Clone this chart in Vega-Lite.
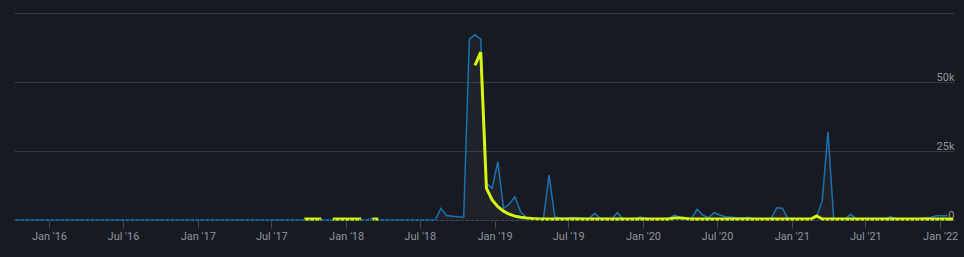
{
  "$schema": "https://vega.github.io/schema/vega-lite/v6.json",
  "width": 940,
  "height": 207,
  "padding": {"left": 14, "top": 13, "right": 10, "bottom": 37},
  "autosize": {"type": "none"},
  "background": "#171a21",
  "config": {
    "view": {"stroke": null},
    "axis": {"labelFont": "Roboto", "labelFontSize": 11, "labelColor": "#8d95a0", "title": null}
  },
  "datasets": {
    "blue": [
      {"d":"2015-10-07","v":0},{"d":"2015-10-21","v":0},{"d":"2015-11-04","v":0},{"d":"2015-11-18","v":0},{"d":"2015-12-02","v":0},{"d":"2015-12-16","v":0},{"d":"2015-12-30","v":0},
      {"d":"2016-01-13","v":0},{"d":"2016-01-27","v":0},{"d":"2016-02-10","v":0},{"d":"2016-02-24","v":0},{"d":"2016-03-09","v":0},{"d":"2016-03-23","v":0},{"d":"2016-04-06","v":0},{"d":"2016-04-20","v":0},{"d":"2016-05-04","v":0},{"d":"2016-05-18","v":0},{"d":"2016-06-01","v":0},{"d":"2016-06-15","v":0},{"d":"2016-06-29","v":0},{"d":"2016-07-13","v":0},{"d":"2016-07-27","v":0},{"d":"2016-08-10","v":0},{"d":"2016-08-24","v":0},{"d":"2016-09-07","v":0},{"d":"2016-09-21","v":0},{"d":"2016-10-05","v":0},{"d":"2016-10-19","v":0},{"d":"2016-11-02","v":0},{"d":"2016-11-16","v":0},{"d":"2016-11-30","v":0},{"d":"2016-12-14","v":0},{"d":"2016-12-28","v":0},
      {"d":"2017-01-11","v":0},{"d":"2017-01-25","v":0},{"d":"2017-02-08","v":0},{"d":"2017-02-22","v":0},{"d":"2017-03-08","v":0},{"d":"2017-03-22","v":0},{"d":"2017-04-05","v":0},{"d":"2017-04-19","v":0},{"d":"2017-05-03","v":0},{"d":"2017-05-17","v":0},{"d":"2017-05-31","v":0},{"d":"2017-06-14","v":0},{"d":"2017-06-28","v":0},{"d":"2017-07-12","v":0},{"d":"2017-07-26","v":0},{"d":"2017-08-09","v":0},{"d":"2017-08-23","v":0},{"d":"2017-09-06","v":0},{"d":"2017-09-20","v":0},{"d":"2017-10-04","v":0},{"d":"2017-10-18","v":0},{"d":"2017-11-01","v":0},{"d":"2017-11-15","v":0},{"d":"2017-11-29","v":0},{"d":"2017-12-13","v":0},{"d":"2017-12-27","v":0},
      {"d":"2018-01-10","v":0},{"d":"2018-01-24","v":0},{"d":"2018-02-07","v":0},{"d":"2018-02-21","v":0},{"d":"2018-03-07","v":600},{"d":"2018-03-21","v":0},{"d":"2018-04-04","v":0},{"d":"2018-04-18","v":0},{"d":"2018-05-02","v":0},{"d":"2018-05-16","v":0},{"d":"2018-05-30","v":0},{"d":"2018-06-13","v":0},{"d":"2018-06-27","v":0},{"d":"2018-07-11","v":0},{"d":"2018-07-25","v":0},{"d":"2018-08-08","v":0},{"d":"2018-08-22","v":4200},{"d":"2018-09-05","v":1600},{"d":"2018-09-19","v":1400},{"d":"2018-10-03","v":1200},{"d":"2018-10-17","v":1000},{"d":"2018-10-31","v":65500},{"d":"2018-11-14","v":67100},{"d":"2018-11-28","v":65500},{"d":"2018-12-12","v":13300},{"d":"2018-12-26","v":11500},
      {"d":"2019-01-09","v":21150},{"d":"2019-01-23","v":4200},{"d":"2019-02-06","v":5800},{"d":"2019-02-20","v":8450},{"d":"2019-03-06","v":3000},{"d":"2019-03-20","v":1000},{"d":"2019-04-03","v":300},{"d":"2019-04-17","v":200},{"d":"2019-05-01","v":200},{"d":"2019-05-15","v":16300},{"d":"2019-05-29","v":1200},{"d":"2019-06-12","v":600},{"d":"2019-06-26","v":700},{"d":"2019-07-10","v":900},{"d":"2019-07-24","v":800},{"d":"2019-08-07","v":600},{"d":"2019-08-21","v":400},{"d":"2019-09-04","v":2400},{"d":"2019-09-18","v":500},{"d":"2019-10-02","v":500},{"d":"2019-10-16","v":400},{"d":"2019-10-30","v":2650},{"d":"2019-11-13","v":400},{"d":"2019-11-27","v":300},{"d":"2019-12-11","v":300},{"d":"2019-12-25","v":1100},
      {"d":"2020-01-08","v":500},{"d":"2020-01-22","v":300},{"d":"2020-02-05","v":300},{"d":"2020-02-19","v":300},{"d":"2020-03-04","v":400},{"d":"2020-03-18","v":1800},{"d":"2020-04-01","v":1000},{"d":"2020-04-15","v":800},{"d":"2020-04-29","v":400},{"d":"2020-05-13","v":3900},{"d":"2020-05-27","v":1800},{"d":"2020-06-10","v":800},{"d":"2020-06-24","v":2650},{"d":"2020-07-08","v":1800},{"d":"2020-07-22","v":1200},{"d":"2020-08-05","v":1000},{"d":"2020-08-19","v":800},{"d":"2020-09-02","v":600},{"d":"2020-09-16","v":1000},{"d":"2020-09-30","v":400},{"d":"2020-10-14","v":300},{"d":"2020-10-28","v":300},{"d":"2020-11-11","v":400},{"d":"2020-11-25","v":4450},{"d":"2020-12-09","v":4250},{"d":"2020-12-23","v":300},
      {"d":"2021-01-06","v":300},{"d":"2021-01-20","v":300},{"d":"2021-02-03","v":300},{"d":"2021-02-17","v":500},{"d":"2021-03-03","v":1000},{"d":"2021-03-17","v":7000},{"d":"2021-03-31","v":32000},{"d":"2021-04-14","v":600},{"d":"2021-04-28","v":300},{"d":"2021-05-12","v":300},{"d":"2021-05-26","v":2050},{"d":"2021-06-09","v":400},{"d":"2021-06-23","v":300},{"d":"2021-07-07","v":300},{"d":"2021-07-21","v":300},{"d":"2021-08-04","v":300},{"d":"2021-08-18","v":300},{"d":"2021-09-01","v":1200},{"d":"2021-09-15","v":400},{"d":"2021-09-29","v":300},{"d":"2021-10-13","v":300},{"d":"2021-10-27","v":300},{"d":"2021-11-10","v":300},{"d":"2021-11-24","v":800},{"d":"2021-12-08","v":900},{"d":"2021-12-22","v":1500},
      {"d":"2022-01-05","v":1500},{"d":"2022-01-19","v":1500}
    ],
    "yellow": [
      {"d":"2017-09-20","v":350,"s":"a"},{"d":"2017-10-04","v":350,"s":"a"},{"d":"2017-10-18","v":350,"s":"a"},{"d":"2017-11-01","v":350,"s":"a"},
      {"d":"2017-11-29","v":350,"s":"b"},{"d":"2017-12-13","v":350,"s":"b"},{"d":"2017-12-27","v":350,"s":"b"},{"d":"2018-01-10","v":350,"s":"b"},{"d":"2018-01-24","v":350,"s":"b"},{"d":"2018-02-07","v":350,"s":"b"},
      {"d":"2018-03-07","v":350,"s":"c"},{"d":"2018-03-21","v":350,"s":"c"},
      {"d":"2018-11-14","v":56000,"s":"d"},{"d":"2018-11-28","v":60800,"s":"d"},{"d":"2018-12-12","v":11500,"s":"d"},{"d":"2018-12-26","v":7300,"s":"d"},
      {"d":"2019-01-09","v":4800,"s":"d"},{"d":"2019-01-23","v":3200,"s":"d"},{"d":"2019-02-06","v":2100,"s":"d"},{"d":"2019-02-20","v":1400,"s":"d"},{"d":"2019-03-06","v":1000,"s":"d"},{"d":"2019-03-20","v":700,"s":"d"},{"d":"2019-04-03","v":550,"s":"d"},{"d":"2019-04-17","v":450,"s":"d"},{"d":"2019-05-01","v":400,"s":"d"},{"d":"2019-05-15","v":400,"s":"d"},{"d":"2019-05-29","v":400,"s":"d"},{"d":"2019-06-12","v":380,"s":"d"},{"d":"2019-06-26","v":380,"s":"d"},{"d":"2019-07-10","v":380,"s":"d"},{"d":"2019-07-24","v":380,"s":"d"},{"d":"2019-08-07","v":370,"s":"d"},{"d":"2019-08-21","v":370,"s":"d"},{"d":"2019-09-04","v":370,"s":"d"},{"d":"2019-09-18","v":370,"s":"d"},{"d":"2019-10-02","v":360,"s":"d"},{"d":"2019-10-16","v":360,"s":"d"},{"d":"2019-10-30","v":360,"s":"d"},{"d":"2019-11-13","v":360,"s":"d"},{"d":"2019-11-27","v":350,"s":"d"},{"d":"2019-12-11","v":350,"s":"d"},{"d":"2019-12-25","v":350,"s":"d"},
      {"d":"2020-01-08","v":350,"s":"d"},{"d":"2020-01-22","v":350,"s":"d"},{"d":"2020-02-05","v":350,"s":"d"},{"d":"2020-02-19","v":350,"s":"d"},{"d":"2020-03-04","v":400,"s":"d"},{"d":"2020-03-18","v":750,"s":"d"},{"d":"2020-04-01","v":750,"s":"d"},{"d":"2020-04-15","v":550,"s":"d"},{"d":"2020-04-29","v":400,"s":"d"},{"d":"2020-05-13","v":400,"s":"d"},{"d":"2020-05-27","v":380,"s":"d"},{"d":"2020-06-10","v":380,"s":"d"},{"d":"2020-06-24","v":380,"s":"d"},{"d":"2020-07-08","v":380,"s":"d"},{"d":"2020-07-22","v":370,"s":"d"},{"d":"2020-08-05","v":370,"s":"d"},{"d":"2020-08-19","v":370,"s":"d"},{"d":"2020-09-02","v":360,"s":"d"},{"d":"2020-09-16","v":360,"s":"d"},{"d":"2020-09-30","v":360,"s":"d"},{"d":"2020-10-14","v":350,"s":"d"},{"d":"2020-10-28","v":350,"s":"d"},{"d":"2020-11-11","v":350,"s":"d"},{"d":"2020-11-25","v":350,"s":"d"},{"d":"2020-12-09","v":350,"s":"d"},{"d":"2020-12-23","v":350,"s":"d"},
      {"d":"2021-01-06","v":350,"s":"d"},{"d":"2021-01-20","v":350,"s":"d"},{"d":"2021-02-03","v":350,"s":"d"},{"d":"2021-02-17","v":350,"s":"d"},{"d":"2021-03-03","v":1450,"s":"d"},{"d":"2021-03-17","v":350,"s":"d"},{"d":"2021-03-31","v":350,"s":"d"},{"d":"2021-04-14","v":350,"s":"d"},{"d":"2021-04-28","v":350,"s":"d"},{"d":"2021-05-12","v":350,"s":"d"},{"d":"2021-05-26","v":350,"s":"d"},{"d":"2021-06-09","v":350,"s":"d"},{"d":"2021-06-23","v":350,"s":"d"},{"d":"2021-07-07","v":350,"s":"d"},{"d":"2021-07-21","v":350,"s":"d"},{"d":"2021-08-04","v":350,"s":"d"},{"d":"2021-08-18","v":350,"s":"d"},{"d":"2021-09-01","v":350,"s":"d"},{"d":"2021-09-15","v":350,"s":"d"},{"d":"2021-09-29","v":350,"s":"d"},{"d":"2021-10-13","v":350,"s":"d"},{"d":"2021-10-27","v":350,"s":"d"},{"d":"2021-11-10","v":350,"s":"d"},{"d":"2021-11-24","v":350,"s":"d"},{"d":"2021-12-08","v":350,"s":"d"},{"d":"2021-12-22","v":350,"s":"d"},
      {"d":"2022-01-05","v":350,"s":"d"},{"d":"2022-01-19","v":350,"s":"d"},{"d":"2022-02-02","v":350,"s":"d"}
    ]
  },
  "encoding": {
    "x": {
      "field": "d", "type": "temporal",
      "scale": {"domain": [{"year": 2015, "month": 10, "date": 7}, {"year": 2022, "month": 2, "date": 4}], "nice": false},
      "axis": {
        "values": [
          {"year": 2016, "month": 1, "date": 1}, {"year": 2016, "month": 7, "date": 1},
          {"year": 2017, "month": 1, "date": 1}, {"year": 2017, "month": 7, "date": 1},
          {"year": 2018, "month": 1, "date": 1}, {"year": 2018, "month": 7, "date": 1},
          {"year": 2019, "month": 1, "date": 1}, {"year": 2019, "month": 7, "date": 1},
          {"year": 2020, "month": 1, "date": 1}, {"year": 2020, "month": 7, "date": 1},
          {"year": 2021, "month": 1, "date": 1}, {"year": 2021, "month": 7, "date": 1},
          {"year": 2022, "month": 1, "date": 1}
        ],
        "format": "%b '%y",
        "grid": false,
        "domainColor": "#3b4658",
        "tickColor": "#3b4658",
        "tickSize": 8,
        "labelPadding": 2,
        "labelFlush": true
      }
    },
    "y": {
      "field": "v", "type": "quantitative",
      "scale": {"domain": [0, 75000], "nice": false},
      "axis": {
        "orient": "right",
        "values": [0, 25000, 50000, 75000],
        "labelExpr": "datum.value >= 75000 ? '' : (datum.value == 0 ? '0' : (datum.value / 1000) + 'k')",
        "domain": false,
        "ticks": false,
        "tickSize": 0,
        "labelPadding": 0,
        "labelAlign": "right",
        "labelBaseline": "alphabetic",
        "labelOffset": -2,
        "gridColor": "#35383e",
        "labelFlush": false
      }
    }
  },
  "layer": [
    {
      "data": {"name": "blue"},
      "mark": {"type": "area", "color": "#ffffff", "opacity": 0.035}
    },
    {
      "data": {"name": "blue"},
      "mark": {"type": "line", "color": "#1a72b0", "strokeWidth": 1.5}
    },
    {
      "data": {"name": "yellow"},
      "mark": {"type": "line", "color": "#d6f514", "strokeWidth": 3},
      "encoding": {"detail": {"field": "s"}}
    },
    {
      "data": {"name": "blue"},
      "mark": {"type": "line", "color": "#161a21", "opacity": 0.7, "strokeWidth": 1.5, "strokeDash": [1.5, 3.5]},
      "encoding": {"y": {"datum": 0}}
    }
  ]
}
